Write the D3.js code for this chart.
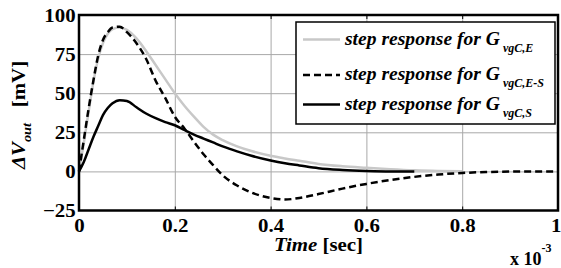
<!DOCTYPE html>
<html lang="en">
<head>
    <meta charset="UTF-8">
    <script src="https://cdn.jsdelivr.net/npm/d3@7/dist/d3.min.js"></script>
    <title>step response</title>
    <style>
        * { margin: 0; padding: 0; }
        body { background: #fff; }
        svg { display: block; }
        svg text { font-family: 'Liberation Serif', 'DejaVu Serif', serif; }
    </style>
</head>
<body>
<svg id="chart" width="561" height="268"></svg>
<script>
  // time in ms (axis shows x 10^-3 sec)
  var time = [0, 0.01, 0.02, 0.03, 0.04, 0.05, 0.06, 0.07, 0.085, 0.1, 0.12, 0.14, 0.16, 0.18,
    0.2, 0.22, 0.24, 0.26, 0.28, 0.3, 0.33, 0.36, 0.4, 0.43, 0.46, 0.5, 0.55, 0.6, 0.65,
    0.7, 0.75, 0.8, 0.85, 0.9, 0.95, 1.0];

  // G_vgC,E (gray), ends around 0.8
  var respE = [0, 18, 38, 57, 72, 82, 88, 91, 92, 90.5, 85, 77, 68, 59,
    50, 42, 35, 28.5, 23.5, 20, 16, 13, 10, 8.3, 6.8, 4.8, 3.3, 2.3, 1.4,
    0.7, 0.3, 0.1, null, null, null, null];

  // G_vgC,E-S (dashed)
  var respES = [0, 20, 40, 58, 74, 84, 89, 92, 92.5, 89, 82, 72, 58, 47,
    35, 27.5, 19, 11, 4, -2.5, -9, -13.5, -17, -18, -17, -14.5, -11, -8, -5.5,
    -3.5, -2, -1, -0.4, -0.1, 0, 0];

  // G_vgC,S (solid), ends around 0.72
  var respS = [0, 6, 14, 22, 29, 36, 40.5, 43.5, 45.5, 45, 41, 37, 34, 31.5,
    29.5, 26.5, 23.5, 21, 18.5, 16, 12.8, 10, 7, 5.2, 3.8, 2, 0.9, 0.3, 0,
    0, null, null, null, null, null, null];

  var xTicks = [0, 0.2, 0.4, 0.6, 0.8, 1];
  var yTicks = [-25, 0, 25, 50, 75, 100];

  var series = [
    { sub: 'vgC,E', color: '#c8c8c8', dash: null, data: respE },
    { sub: 'vgC,E-S', color: '#000', dash: '7,4', data: respES },
    { sub: 'vgC,S', color: '#000', dash: null, data: respS }
  ];

  var svg = d3.select('#chart');
  var pLeft = 79, pRight = 558, pTop = 15, pBottom = 210.5;

  var x = d3.scaleLinear().domain([0, 1]).range([pLeft, pRight]);
  var y = d3.scaleLinear().domain([-25, 100]).range([pBottom, pTop]);

  function noDomain(g) { g.select('.domain').remove(); }

  // grid
  svg.append('g')
    .attr('transform', 'translate(0,' + pBottom + ')')
    .call(d3.axisBottom(x).tickValues(xTicks.slice(1, -1)).tickSize(-(pBottom - pTop)).tickFormat(''))
    .call(noDomain)
    .selectAll('line').attr('stroke', '#a8a8a8').attr('stroke-width', 1);

  svg.append('g')
    .attr('transform', 'translate(' + pLeft + ',0)')
    .call(d3.axisLeft(y).tickValues(yTicks.slice(1, -1)).tickSize(-(pRight - pLeft)).tickFormat(''))
    .call(noDomain)
    .selectAll('line').attr('stroke', '#a8a8a8').attr('stroke-width', 1);

  // small inward ticks on the top edge
  svg.append('g')
    .attr('transform', 'translate(0,' + pTop + ')')
    .call(d3.axisTop(x).tickValues(xTicks).tickSize(-4).tickFormat(''))
    .call(noDomain)
    .selectAll('line').attr('stroke', '#000').attr('stroke-width', 1);

  // curves
  var line = d3.line()
    .defined(function (d) { return d[1] !== null; })
    .x(function (d) { return x(d[0]); })
    .y(function (d) { return y(d[1]); })
    .curve(d3.curveMonotoneX);

  series.forEach(function (s) {
    var pts = time.map(function (t, i) { return [t, s.data[i]]; });
    svg.append('path')
      .attr('d', line(pts))
      .attr('fill', 'none')
      .attr('stroke', s.color)
      .attr('stroke-width', 2.5)
      .attr('stroke-dasharray', s.dash);
  });

  // frame
  svg.append('rect')
    .attr('x', pLeft).attr('y', pTop)
    .attr('width', pRight - pLeft).attr('height', pBottom - pTop)
    .attr('fill', 'none').attr('stroke', '#000').attr('stroke-width', 2.5);

  // tick labels
  var xAxis = svg.append('g')
    .attr('transform', 'translate(0,' + pBottom + ')')
    .call(d3.axisBottom(x).tickValues(xTicks).tickSize(-4).tickPadding(8)
      .tickFormat(function (d) { return d === 0 || d === 1 ? d3.format('d')(d) : d3.format('.1f')(d); }))
    .call(noDomain);
  xAxis.selectAll('line').attr('stroke', '#000');
  xAxis.selectAll('text')
    .attr('font-size', 19).attr('font-weight', 'bold').attr('fill', '#000')
    .attr('transform', 'scale(1.1,1)');
  xAxis.selectAll('.tick').filter(function (d) { return d === 1; }).select('text').attr('x', -2);

  var yAxis = svg.append('g')
    .attr('transform', 'translate(' + pLeft + ',0)')
    .call(d3.axisLeft(y).tickValues(yTicks).tickSize(0).tickPadding(3))
    .call(noDomain);
  yAxis.selectAll('text')
    .attr('font-size', 19).attr('font-weight', 'bold').attr('fill', '#000')
    .attr('x', -3).attr('transform', 'scale(1.1,1)');

  // axis titles
  var xt = svg.append('text')
    .attr('transform', 'translate(' + ((pLeft + pRight) / 2) + ',251) scale(1.1,1)')
    .attr('text-anchor', 'middle')
    .attr('font-size', 19).attr('font-weight', 'bold');
  xt.append('tspan').attr('font-style', 'italic').text('Time');
  xt.append('tspan').text(' [sec]');

  var ex = svg.append('text')
    .attr('transform', 'translate(510,265)')
    .attr('font-size', 18).attr('font-weight', 'bold');
  ex.append('tspan').text('x 10');
  ex.append('tspan').attr('font-size', 12).attr('dy', -13).text('-3');

  var yt = svg.append('text')
    .attr('transform', 'translate(25,115) rotate(-90) scale(1.1,1)')
    .attr('text-anchor', 'middle')
    .attr('font-size', 19).attr('font-weight', 'bold');
  yt.append('tspan').attr('font-style', 'italic').text('ΔV');
  yt.append('tspan').attr('font-style', 'italic').attr('font-size', 13).attr('dy', 6).text('out');
  yt.append('tspan').attr('dy', -6).text('\u2002 [mV]');

  // legend
  var lg = svg.append('g');
  lg.append('rect')
    .attr('x', 296).attr('y', 22).attr('width', 259).attr('height', 102)
    .attr('fill', '#fff').attr('stroke', '#000').attr('stroke-width', 1.5);

  var rowY = [39.5, 75, 104.5];
  series.forEach(function (s, i) {
    lg.append('line')
      .attr('x1', 303).attr('x2', 340)
      .attr('y1', rowY[i]).attr('y2', rowY[i])
      .attr('stroke', s.color).attr('stroke-width', 2.5)
      .attr('stroke-dasharray', s.dash);
    var t = lg.append('text')
      .attr('x', 345).attr('y', rowY[i] + 5)
      .attr('font-size', 19).attr('font-weight', 'bold').attr('font-style', 'italic');
    t.append('tspan').attr('textLength', 155).attr('lengthAdjust', 'spacingAndGlyphs')
      .text('step response for G');
    t.append('tspan').attr('x', 503).attr('font-size', 12).attr('dy', 7).text(s.sub);
  });
</script>
</body>
</html>
